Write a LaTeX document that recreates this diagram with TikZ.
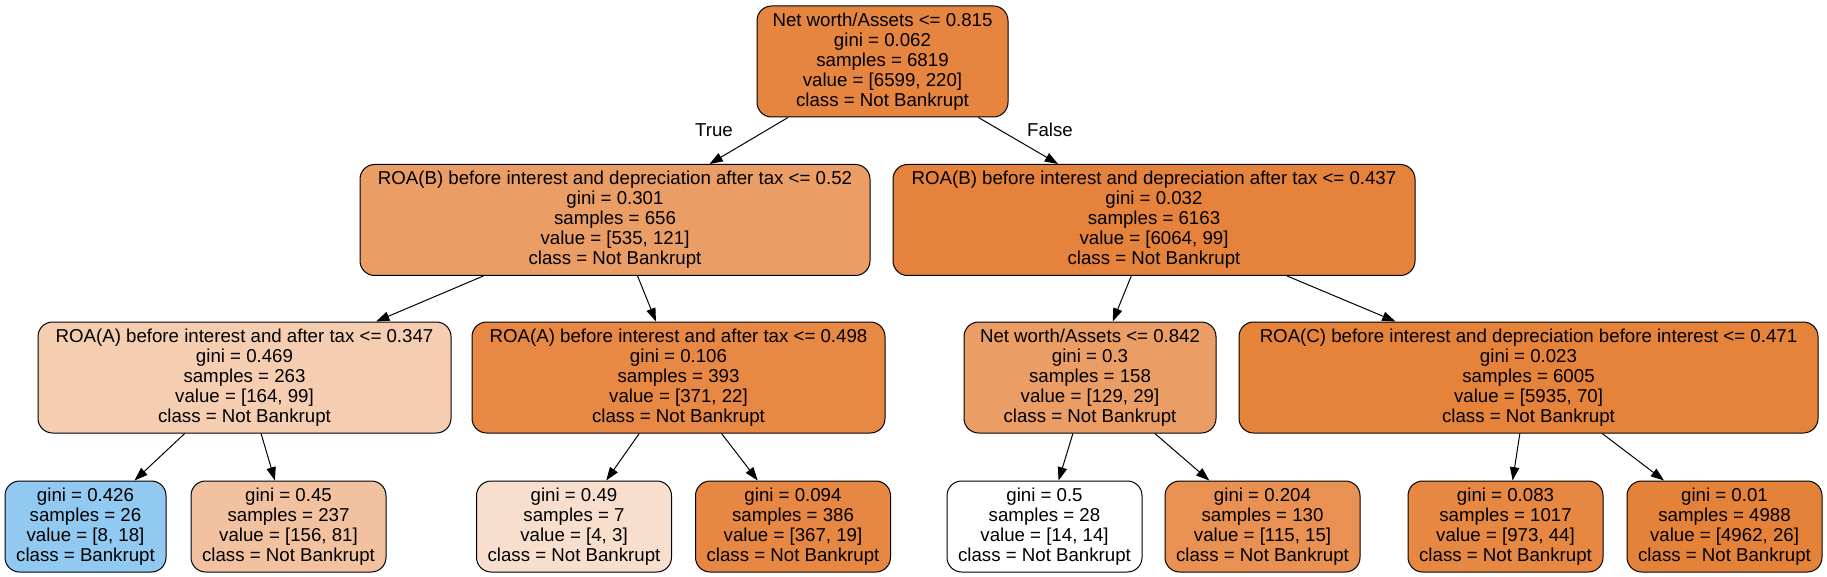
\documentclass[tikz,border=0pt]{standalone}
\usepackage{fontspec}
\setmainfont{Liberation Sans}
\usetikzlibrary{arrows.meta}

\definecolor{notbank}{RGB}{229,129,57}
\definecolor{bank}{RGB}{57,157,229}

\tikzset{every picture/.style={line width=0.75pt}}
\tikzset{
	treenode/.style={draw=black, rounded corners=11pt, align=center, inner xsep=6pt,
		font=\fontsize{14}{15}\selectfont},
	splitnode/.style={treenode, minimum height=83.25pt},
	leafnode/.style={treenode, minimum height=68.25pt, minimum width=146.25pt},
	branch/.style={-{Triangle[length=10pt,width=7pt]}, line width=0.75pt},
	edgelabel/.style={font=\fontsize{14}{15}\selectfont}
}

\begin{document}
\begin{tikzpicture}[x=0.75pt,y=0.75pt,yscale=-1,xscale=1]
	\useasboundingbox (0,0) rectangle (1827,577);

	% Node: root
	\node [splitnode, minimum width=188.25pt, fill=notbank!96.7] (root) at (882.5,61.5) {Net worth/Assets <= 0.815\\gini = 0.062\\samples = 6819\\value = [6599, 220]\\class = Not Bankrupt};

	% Node: depth 1
	\node [splitnode, minimum width=382.5pt, fill=notbank!77.4] (roab1) at (615,220) {ROA(B) before interest and depreciation after tax <= 0.52\\gini = 0.301\\samples = 656\\value = [535, 121]\\class = Not Bankrupt};
	\node [splitnode, minimum width=391.5pt, fill=notbank!98.4] (roab2) at (1154,220) {ROA(B) before interest and depreciation after tax <= 0.437\\gini = 0.032\\samples = 6163\\value = [6064, 99]\\class = Not Bankrupt};

	% Node: depth 2
	\node [splitnode, minimum width=309.75pt, fill=notbank!39.6] (roaa1) at (244.5,377.5) {ROA(A) before interest and after tax <= 0.347\\gini = 0.469\\samples = 263\\value = [164, 99]\\class = Not Bankrupt};
	\node [splitnode, minimum width=309.75pt, fill=notbank!94.1] (roaa2) at (678.5,377.5) {ROA(A) before interest and after tax <= 0.498\\gini = 0.106\\samples = 393\\value = [371, 22]\\class = Not Bankrupt};
	\node [splitnode, minimum width=189pt, fill=notbank!77.5] (networth) at (1090,377.5) {Net worth/Assets <= 0.842\\gini = 0.3\\samples = 158\\value = [129, 29]\\class = Not Bankrupt};
	\node [splitnode, minimum width=434.25pt, fill=notbank!98.8] (roac) at (1528.5,377.5) {ROA(C) before interest and depreciation before interest <= 0.471\\gini = 0.023\\samples = 6005\\value = [5935, 70]\\class = Not Bankrupt};

	% Node: leaves
	\node [leafnode, minimum width=120.75pt, fill=bank!55.6] (leafa) at (85.5,526.5) {gini = 0.426\\samples = 26\\value = [8, 18]\\class = Bankrupt};
	\node [leafnode, fill=notbank!48.1] (leafb) at (288.5,526.5) {gini = 0.45\\samples = 237\\value = [156, 81]\\class = Not Bankrupt};
	\node [leafnode, fill=notbank!25] (leafc) at (574,526.5) {gini = 0.49\\samples = 7\\value = [4, 3]\\class = Not Bankrupt};
	\node [leafnode, fill=notbank!94.8] (leafd) at (793,526.5) {gini = 0.094\\samples = 386\\value = [367, 19]\\class = Not Bankrupt};
	\node [leafnode, fill=white] (leafe) at (1044.5,526.5) {gini = 0.5\\samples = 28\\value = [14, 14]\\class = Not Bankrupt};
	\node [leafnode, fill=notbank!87] (leaff) at (1262.5,526.5) {gini = 0.204\\samples = 130\\value = [115, 15]\\class = Not Bankrupt};
	\node [leafnode, fill=notbank!95.5] (leafg) at (1505.5,526.5) {gini = 0.083\\samples = 1017\\value = [973, 44]\\class = Not Bankrupt};
	\node [leafnode, fill=notbank!99.5] (leafh) at (1724.5,526.5) {gini = 0.01\\samples = 4988\\value = [4962, 26]\\class = Not Bankrupt};

	% Edges
	\draw [branch] (root) -- (roab1);
	\draw [branch] (root) -- (roab2);
	\draw [branch] (roab1) -- (roaa1);
	\draw [branch] (roab1) -- (roaa2);
	\draw [branch] (roab2) -- (networth);
	\draw [branch] (roab2) -- (roac);
	\draw [branch] (roaa1) -- (leafa);
	\draw [branch] (roaa1) -- (leafb);
	\draw [branch] (roaa2) -- (leafc);
	\draw [branch] (roaa2) -- (leafd);
	\draw [branch] (networth) -- (leafe);
	\draw [branch] (networth) -- (leaff);
	\draw [branch] (roac) -- (leafg);
	\draw [branch] (roac) -- (leafh);

	% Text Node
	\node [edgelabel] (truelab) at (714,130) {True};
	% Text Node
	\node [edgelabel] (falselab) at (1050,130) {False};

\end{tikzpicture}
\end{document}
